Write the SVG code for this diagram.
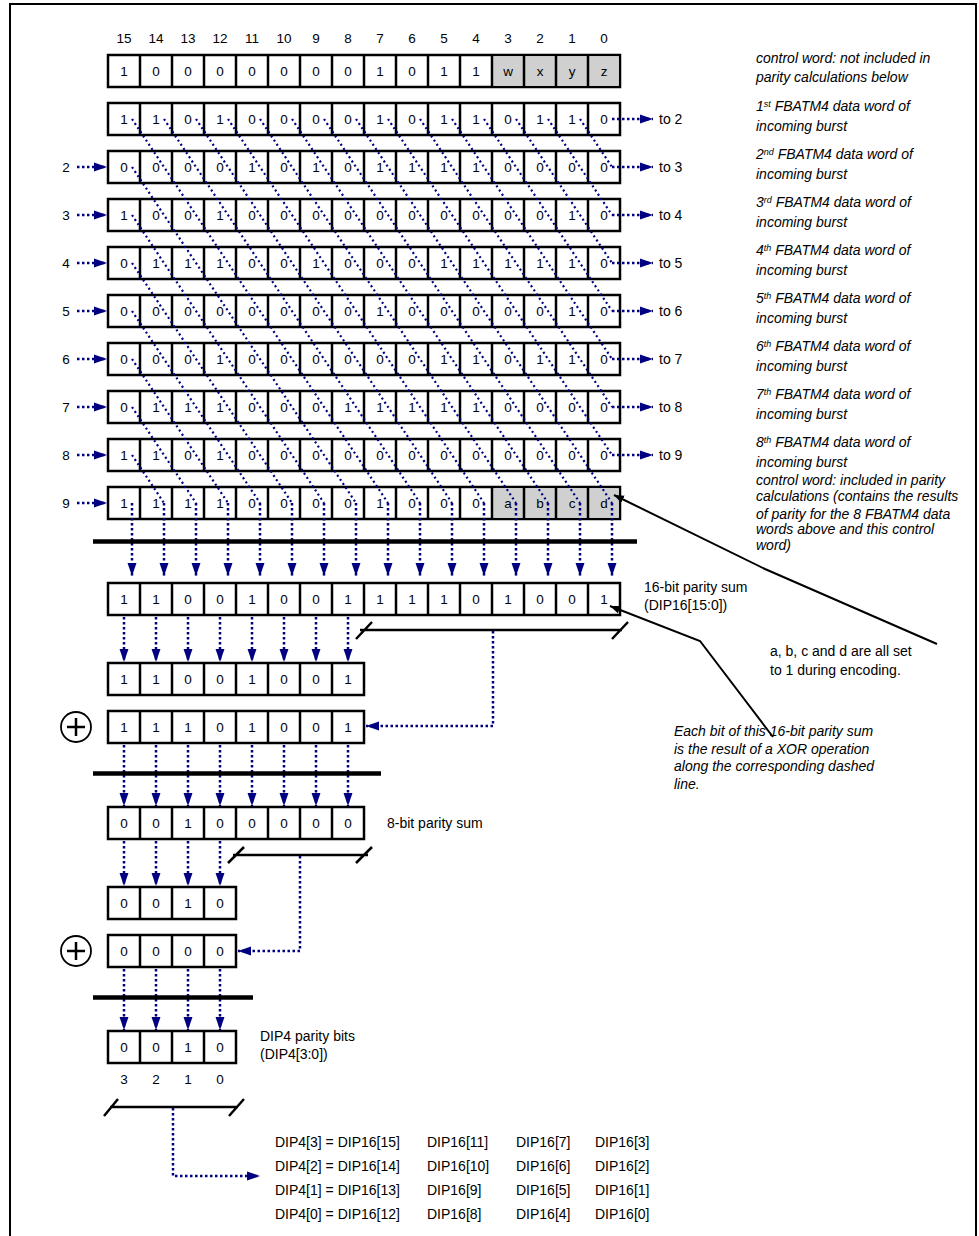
<svg xmlns="http://www.w3.org/2000/svg" xmlns:xlink="http://www.w3.org/1999/xlink" width="979" height="1236" viewBox="0 0 979 1236">
<style>
.box{fill:#fff;stroke:#000;stroke-width:2.5}
.gray{fill:#d0d0d0;stroke:none}
.dv{fill:none;stroke:#000;stroke-width:2.5}
text{font-family:"Liberation Sans",Arial,sans-serif;fill:#000}
.d{font-size:13.5px;text-anchor:middle}
.l{font-size:14px}
.n{font-size:14px;font-style:italic}
.sup{font-size:9px}
.dot{fill:none;stroke:#000080;stroke-width:2.5;stroke-dasharray:2.5 2.5}
.dg{fill:none;stroke:#000080;stroke-width:2.2;stroke-dasharray:2 3}
.arr{marker-end:url(#ah)}
.bar{stroke:#000;stroke-width:4.5}
.br{fill:none;stroke:#000;stroke-width:2.5}
.call{fill:none;stroke:#000;stroke-width:2;marker-end:url(#bh)}
</style>
<defs>
<marker id="ah" markerUnits="userSpaceOnUse" markerWidth="14" markerHeight="10" refX="13" refY="5" orient="auto"><path d="M0,0.5 L13,5 L0,9.5 z" fill="#000080"/></marker>
<marker id="bh" markerUnits="userSpaceOnUse" markerWidth="11" markerHeight="9" refX="10" refY="4.5" orient="auto"><path d="M0,0.5 L10,4.5 L0,8.5 z" fill="#000"/></marker>
<path id="d16" class="dv" d="M140,0v32M172,0v32M204,0v32M236,0v32M268,0v32M300,0v32M332,0v32M364,0v32M396,0v32M428,0v32M460,0v32M492,0v32M524,0v32M556,0v32M588,0v32"/>
<path id="d8" class="dv" d="M140,0v32M172,0v32M204,0v32M236,0v32M268,0v32M300,0v32M332,0v32"/>
<path id="d4" class="dv" d="M140,0v32M172,0v32M204,0v32"/>
</defs>
<rect x="0" y="0" width="979" height="1236" fill="#fff"/>
<path d="M10,1236 V4 H976 V1236" fill="none" stroke="#000" stroke-width="2"/>

<g id="bit-numbers">
<text class="d" x="124" y="43">15</text><text class="d" x="156" y="43">14</text><text class="d" x="188" y="43">13</text><text class="d" x="220" y="43">12</text><text class="d" x="252" y="43">11</text><text class="d" x="284" y="43">10</text><text class="d" x="316" y="43">9</text><text class="d" x="348" y="43">8</text><text class="d" x="380" y="43">7</text><text class="d" x="412" y="43">6</text><text class="d" x="444" y="43">5</text><text class="d" x="476" y="43">4</text><text class="d" x="508" y="43">3</text><text class="d" x="540" y="43">2</text><text class="d" x="572" y="43">1</text><text class="d" x="604" y="43">0</text>
</g>

<g id="row0">
<rect class="box" x="108" y="55" width="512" height="32"/><rect class="gray" x="493.25" y="56.25" width="125.5" height="29.5"/><use xlink:href="#d16" y="55"/>
<text class="d" x="124" y="76">1</text><text class="d" x="156" y="76">0</text><text class="d" x="188" y="76">0</text><text class="d" x="220" y="76">0</text><text class="d" x="252" y="76">0</text><text class="d" x="284" y="76">0</text><text class="d" x="316" y="76">0</text><text class="d" x="348" y="76">0</text><text class="d" x="380" y="76">1</text><text class="d" x="412" y="76">0</text><text class="d" x="444" y="76">1</text><text class="d" x="476" y="76">1</text><text class="d" x="508" y="76">w</text><text class="d" x="540" y="76">x</text><text class="d" x="572" y="76">y</text><text class="d" x="604" y="76">z</text>
</g>

<g id="row1">
<rect class="box" x="108" y="103" width="512" height="32"/><use xlink:href="#d16" y="103"/>
<text class="d" x="124" y="124">1</text><text class="d" x="156" y="124">1</text><text class="d" x="188" y="124">0</text><text class="d" x="220" y="124">1</text><text class="d" x="252" y="124">0</text><text class="d" x="284" y="124">0</text><text class="d" x="316" y="124">0</text><text class="d" x="348" y="124">0</text><text class="d" x="380" y="124">1</text><text class="d" x="412" y="124">0</text><text class="d" x="444" y="124">1</text><text class="d" x="476" y="124">1</text><text class="d" x="508" y="124">0</text><text class="d" x="540" y="124">1</text><text class="d" x="572" y="124">1</text><text class="d" x="604" y="124">0</text>
</g>

<g id="row2">
<rect class="box" x="108" y="151" width="512" height="32"/><use xlink:href="#d16" y="151"/>
<text class="d" x="124" y="172">0</text><text class="d" x="156" y="172">0</text><text class="d" x="188" y="172">0</text><text class="d" x="220" y="172">0</text><text class="d" x="252" y="172">1</text><text class="d" x="284" y="172">0</text><text class="d" x="316" y="172">1</text><text class="d" x="348" y="172">0</text><text class="d" x="380" y="172">1</text><text class="d" x="412" y="172">1</text><text class="d" x="444" y="172">1</text><text class="d" x="476" y="172">1</text><text class="d" x="508" y="172">0</text><text class="d" x="540" y="172">0</text><text class="d" x="572" y="172">0</text><text class="d" x="604" y="172">0</text>
</g>

<g id="row3">
<rect class="box" x="108" y="199" width="512" height="32"/><use xlink:href="#d16" y="199"/>
<text class="d" x="124" y="220">1</text><text class="d" x="156" y="220">0</text><text class="d" x="188" y="220">0</text><text class="d" x="220" y="220">1</text><text class="d" x="252" y="220">0</text><text class="d" x="284" y="220">0</text><text class="d" x="316" y="220">0</text><text class="d" x="348" y="220">0</text><text class="d" x="380" y="220">0</text><text class="d" x="412" y="220">0</text><text class="d" x="444" y="220">0</text><text class="d" x="476" y="220">0</text><text class="d" x="508" y="220">0</text><text class="d" x="540" y="220">0</text><text class="d" x="572" y="220">1</text><text class="d" x="604" y="220">0</text>
</g>

<g id="row4">
<rect class="box" x="108" y="247" width="512" height="32"/><use xlink:href="#d16" y="247"/>
<text class="d" x="124" y="268">0</text><text class="d" x="156" y="268">1</text><text class="d" x="188" y="268">1</text><text class="d" x="220" y="268">1</text><text class="d" x="252" y="268">0</text><text class="d" x="284" y="268">0</text><text class="d" x="316" y="268">1</text><text class="d" x="348" y="268">0</text><text class="d" x="380" y="268">0</text><text class="d" x="412" y="268">0</text><text class="d" x="444" y="268">1</text><text class="d" x="476" y="268">1</text><text class="d" x="508" y="268">1</text><text class="d" x="540" y="268">1</text><text class="d" x="572" y="268">1</text><text class="d" x="604" y="268">0</text>
</g>

<g id="row5">
<rect class="box" x="108" y="295" width="512" height="32"/><use xlink:href="#d16" y="295"/>
<text class="d" x="124" y="316">0</text><text class="d" x="156" y="316">0</text><text class="d" x="188" y="316">0</text><text class="d" x="220" y="316">0</text><text class="d" x="252" y="316">0</text><text class="d" x="284" y="316">0</text><text class="d" x="316" y="316">0</text><text class="d" x="348" y="316">0</text><text class="d" x="380" y="316">1</text><text class="d" x="412" y="316">0</text><text class="d" x="444" y="316">0</text><text class="d" x="476" y="316">0</text><text class="d" x="508" y="316">0</text><text class="d" x="540" y="316">0</text><text class="d" x="572" y="316">1</text><text class="d" x="604" y="316">0</text>
</g>

<g id="row6">
<rect class="box" x="108" y="343" width="512" height="32"/><use xlink:href="#d16" y="343"/>
<text class="d" x="124" y="364">0</text><text class="d" x="156" y="364">0</text><text class="d" x="188" y="364">0</text><text class="d" x="220" y="364">1</text><text class="d" x="252" y="364">0</text><text class="d" x="284" y="364">0</text><text class="d" x="316" y="364">0</text><text class="d" x="348" y="364">0</text><text class="d" x="380" y="364">0</text><text class="d" x="412" y="364">0</text><text class="d" x="444" y="364">1</text><text class="d" x="476" y="364">1</text><text class="d" x="508" y="364">0</text><text class="d" x="540" y="364">1</text><text class="d" x="572" y="364">1</text><text class="d" x="604" y="364">0</text>
</g>

<g id="row7">
<rect class="box" x="108" y="391" width="512" height="32"/><use xlink:href="#d16" y="391"/>
<text class="d" x="124" y="412">0</text><text class="d" x="156" y="412">1</text><text class="d" x="188" y="412">1</text><text class="d" x="220" y="412">1</text><text class="d" x="252" y="412">0</text><text class="d" x="284" y="412">0</text><text class="d" x="316" y="412">0</text><text class="d" x="348" y="412">1</text><text class="d" x="380" y="412">1</text><text class="d" x="412" y="412">1</text><text class="d" x="444" y="412">1</text><text class="d" x="476" y="412">1</text><text class="d" x="508" y="412">0</text><text class="d" x="540" y="412">0</text><text class="d" x="572" y="412">0</text><text class="d" x="604" y="412">0</text>
</g>

<g id="row8">
<rect class="box" x="108" y="439" width="512" height="32"/><use xlink:href="#d16" y="439"/>
<text class="d" x="124" y="460">1</text><text class="d" x="156" y="460">1</text><text class="d" x="188" y="460">0</text><text class="d" x="220" y="460">1</text><text class="d" x="252" y="460">0</text><text class="d" x="284" y="460">0</text><text class="d" x="316" y="460">0</text><text class="d" x="348" y="460">0</text><text class="d" x="380" y="460">0</text><text class="d" x="412" y="460">0</text><text class="d" x="444" y="460">0</text><text class="d" x="476" y="460">0</text><text class="d" x="508" y="460">0</text><text class="d" x="540" y="460">0</text><text class="d" x="572" y="460">0</text><text class="d" x="604" y="460">0</text>
</g>

<g id="row9">
<rect class="box" x="108" y="487" width="512" height="32"/><rect class="gray" x="493.25" y="488.25" width="125.5" height="29.5"/><use xlink:href="#d16" y="487"/>
<text class="d" x="124" y="508">1</text><text class="d" x="156" y="508">1</text><text class="d" x="188" y="508">1</text><text class="d" x="220" y="508">1</text><text class="d" x="252" y="508">0</text><text class="d" x="284" y="508">0</text><text class="d" x="316" y="508">0</text><text class="d" x="348" y="508">0</text><text class="d" x="380" y="508">1</text><text class="d" x="412" y="508">0</text><text class="d" x="444" y="508">0</text><text class="d" x="476" y="508">0</text><text class="d" x="508" y="508">a</text><text class="d" x="540" y="508">b</text><text class="d" x="572" y="508">c</text><text class="d" x="604" y="508">d</text>
</g>

<g id="sum16">
<rect class="box" x="108" y="583" width="512" height="32"/><use xlink:href="#d16" y="583"/>
<text class="d" x="124" y="604">1</text><text class="d" x="156" y="604">1</text><text class="d" x="188" y="604">0</text><text class="d" x="220" y="604">0</text><text class="d" x="252" y="604">1</text><text class="d" x="284" y="604">0</text><text class="d" x="316" y="604">0</text><text class="d" x="348" y="604">1</text><text class="d" x="380" y="604">1</text><text class="d" x="412" y="604">1</text><text class="d" x="444" y="604">1</text><text class="d" x="476" y="604">0</text><text class="d" x="508" y="604">1</text><text class="d" x="540" y="604">0</text><text class="d" x="572" y="604">0</text><text class="d" x="604" y="604">1</text>
</g>

<g id="upper8">
<rect class="box" x="108" y="663" width="256" height="32"/><use xlink:href="#d8" y="663"/>
<text class="d" x="124" y="684">1</text><text class="d" x="156" y="684">1</text><text class="d" x="188" y="684">0</text><text class="d" x="220" y="684">0</text><text class="d" x="252" y="684">1</text><text class="d" x="284" y="684">0</text><text class="d" x="316" y="684">0</text><text class="d" x="348" y="684">1</text>
</g>

<g id="lower8">
<rect class="box" x="108" y="711" width="256" height="32"/><use xlink:href="#d8" y="711"/>
<text class="d" x="124" y="732">1</text><text class="d" x="156" y="732">1</text><text class="d" x="188" y="732">1</text><text class="d" x="220" y="732">0</text><text class="d" x="252" y="732">1</text><text class="d" x="284" y="732">0</text><text class="d" x="316" y="732">0</text><text class="d" x="348" y="732">1</text>
</g>

<g id="xor1">
<circle cx="76" cy="727" r="15" fill="#fff" stroke="#000" stroke-width="1.8"/>
<path d="M67,727 H85 M76,718 V736" stroke="#000" stroke-width="2.5"/>
</g>

<g id="sum8">
<rect class="box" x="108" y="807" width="256" height="32"/><use xlink:href="#d8" y="807"/>
<text class="d" x="124" y="828">0</text><text class="d" x="156" y="828">0</text><text class="d" x="188" y="828">1</text><text class="d" x="220" y="828">0</text><text class="d" x="252" y="828">0</text><text class="d" x="284" y="828">0</text><text class="d" x="316" y="828">0</text><text class="d" x="348" y="828">0</text>
</g>

<g id="upper4">
<rect class="box" x="108" y="887" width="128" height="32"/><use xlink:href="#d4" y="887"/>
<text class="d" x="124" y="908">0</text><text class="d" x="156" y="908">0</text><text class="d" x="188" y="908">1</text><text class="d" x="220" y="908">0</text>
</g>

<g id="lower4">
<rect class="box" x="108" y="935" width="128" height="32"/><use xlink:href="#d4" y="935"/>
<text class="d" x="124" y="956">0</text><text class="d" x="156" y="956">0</text><text class="d" x="188" y="956">0</text><text class="d" x="220" y="956">0</text>
</g>

<g id="xor2">
<circle cx="76" cy="951" r="15" fill="#fff" stroke="#000" stroke-width="1.8"/>
<path d="M67,951 H85 M76,942 V960" stroke="#000" stroke-width="2.5"/>
</g>

<g id="dip4">
<rect class="box" x="108" y="1031" width="128" height="32"/><use xlink:href="#d4" y="1031"/>
<text class="d" x="124" y="1052">0</text><text class="d" x="156" y="1052">0</text><text class="d" x="188" y="1052">1</text><text class="d" x="220" y="1052">0</text>
<text class="d" x="124" y="1084">3</text><text class="d" x="156" y="1084">2</text><text class="d" x="188" y="1084">1</text><text class="d" x="220" y="1084">0</text>
</g>

<g id="connectors">
<g id="diagonals" class="dg">
<path d="M132,119 L388,503 M164,119 L420,503 M196,119 L452,503 M228,119 L484,503 M260,119 L516,503 M292,119 L548,503 M324,119 L580,503 M356,119 L612,503 M388,119 L612,455 M420,119 L612,407 M452,119 L612,359 M484,119 L612,311 M516,119 L612,263 M548,119 L612,215 M580,119 L612,167"/>
<path d="M132,167 L356,503 M132,215 L324,503 M132,263 L292,503 M132,311 L260,503 M132,359 L228,503 M132,407 L196,503 M132,455 L164,503"/>
</g>
<g id="wrap-out" class="dot arr">
<path d="M612,119 H653"/><path d="M612,167 H653"/><path d="M612,215 H653"/><path d="M612,263 H653"/><path d="M612,311 H653"/><path d="M612,359 H653"/><path d="M612,407 H653"/><path d="M612,455 H653"/>
</g>
<g id="wrap-in" class="dot arr">
<path d="M77,167 H107"/><path d="M77,215 H107"/><path d="M77,263 H107"/><path d="M77,311 H107"/><path d="M77,359 H107"/><path d="M77,407 H107"/><path d="M77,455 H107"/><path d="M77,503 H107"/>
</g>
<g id="down16" class="dot arr">
<path d="M132,503 V576"/><path d="M164,503 V576"/><path d="M196,503 V576"/><path d="M228,503 V576"/><path d="M260,503 V576"/><path d="M292,503 V576"/><path d="M324,503 V576"/><path d="M356,503 V576"/><path d="M388,503 V576"/><path d="M420,503 V576"/><path d="M452,503 V576"/><path d="M484,503 V576"/><path d="M516,503 V576"/><path d="M548,503 V576"/><path d="M580,503 V576"/><path d="M612,503 V576"/>
</g>
<g id="down8" class="dot arr">
<path d="M124,617 V662"/><path d="M156,617 V662"/><path d="M188,617 V662"/><path d="M220,617 V662"/><path d="M252,617 V662"/><path d="M284,617 V662"/><path d="M316,617 V662"/><path d="M348,617 V662"/>
<path d="M124,745 V806"/><path d="M156,745 V806"/><path d="M188,745 V806"/><path d="M220,745 V806"/><path d="M252,745 V806"/><path d="M284,745 V806"/><path d="M316,745 V806"/><path d="M348,745 V806"/>
</g>
<g id="down4" class="dot arr">
<path d="M124,841 V886"/><path d="M156,841 V886"/><path d="M188,841 V886"/><path d="M220,841 V886"/>
<path d="M124,969 V1030"/><path d="M156,969 V1030"/><path d="M188,969 V1030"/><path d="M220,969 V1030"/>
</g>
<g id="brackets">
<path class="br" d="M360,630 H622 M356,639 L372,622 M612,639 L628,622"/>
<path class="dot arr" d="M493,631 V726 H366"/>
<path class="br" d="M233,855 H368 M228,863 L244,847 M356,863 L372,847"/>
<path class="dot arr" d="M300,856 V951 H238"/>
<path class="br" d="M110,1107 H238 M104,1116 L118,1099 M229,1116 L244,1099"/>
<path class="dot arr" d="M173,1108 V1176 H260"/>
</g>
<g id="callouts">
<path class="call" d="M937,644 L765,569 L614,495"/>
<path class="call" d="M773,737 L700,641 L610,606"/>
</g>
</g>

<g id="bars">
<line class="bar" x1="93" y1="541.5" x2="637" y2="541.5"/>
<line class="bar" x1="93" y1="773.5" x2="381" y2="773.5"/>
<line class="bar" x1="93" y1="997.5" x2="253" y2="997.5"/>
</g>

<g id="labels">
<text class="d" x="66" y="172">2</text><text class="d" x="66" y="220">3</text><text class="d" x="66" y="268">4</text><text class="d" x="66" y="316">5</text><text class="d" x="66" y="364">6</text><text class="d" x="66" y="412">7</text><text class="d" x="66" y="460">8</text><text class="d" x="66" y="508">9</text>
<text class="l" x="659" y="124">to 2</text><text class="l" x="659" y="172">to 3</text><text class="l" x="659" y="220">to 4</text><text class="l" x="659" y="268">to 5</text><text class="l" x="659" y="316">to 6</text><text class="l" x="659" y="364">to 7</text><text class="l" x="659" y="412">to 8</text><text class="l" x="659" y="460">to 9</text>
<text class="l" x="644" y="592">16-bit parity sum</text>
<text class="l" x="644" y="610">(DIP16[15:0])</text>
<text class="l" x="770" y="656">a, b, c and d are all set</text>
<text class="l" x="770" y="675">to 1 during encoding.</text>
<text class="l" x="387" y="828">8-bit parity sum</text>
<text class="l" x="260" y="1041">DIP4 parity bits</text>
<text class="l" x="260" y="1059">(DIP4[3:0])</text>
</g>

<g id="notes">
<text class="n" x="756" y="63">control word: not included in</text>
<text class="n" x="756" y="82">parity calculations below</text>
<text class="n" x="756" y="111">1<tspan class="sup" dy="-4">st</tspan><tspan dy="4"> FBATM4 data word of</tspan></text>
<text class="n" x="756" y="131">incoming burst</text>
<text class="n" x="756" y="159">2<tspan class="sup" dy="-4">nd</tspan><tspan dy="4"> FBATM4 data word of</tspan></text>
<text class="n" x="756" y="179">incoming burst</text>
<text class="n" x="756" y="207">3<tspan class="sup" dy="-4">rd</tspan><tspan dy="4"> FBATM4 data word of</tspan></text>
<text class="n" x="756" y="227">incoming burst</text>
<text class="n" x="756" y="255">4<tspan class="sup" dy="-4">th</tspan><tspan dy="4"> FBATM4 data word of</tspan></text>
<text class="n" x="756" y="275">incoming burst</text>
<text class="n" x="756" y="303">5<tspan class="sup" dy="-4">th</tspan><tspan dy="4"> FBATM4 data word of</tspan></text>
<text class="n" x="756" y="323">incoming burst</text>
<text class="n" x="756" y="351">6<tspan class="sup" dy="-4">th</tspan><tspan dy="4"> FBATM4 data word of</tspan></text>
<text class="n" x="756" y="371">incoming burst</text>
<text class="n" x="756" y="399">7<tspan class="sup" dy="-4">th</tspan><tspan dy="4"> FBATM4 data word of</tspan></text>
<text class="n" x="756" y="419">incoming burst</text>
<text class="n" x="756" y="447">8<tspan class="sup" dy="-4">th</tspan><tspan dy="4"> FBATM4 data word of</tspan></text>
<text class="n" x="756" y="467">incoming burst</text>
<text class="n" x="756" y="485">control word: included in parity</text>
<text class="n" x="756" y="501">calculations (contains the results</text>
<text class="n" x="756" y="519">of parity for the 8 FBATM4 data</text>
<text class="n" x="756" y="534">words above and this control</text>
<text class="n" x="756" y="550">word)</text>
<text class="n" x="674" y="736">Each bit of this 16-bit parity sum</text>
<text class="n" x="674" y="754">is the result of a XOR operation</text>
<text class="n" x="674" y="771">along the corresponding dashed</text>
<text class="n" x="674" y="789">line.</text>
</g>

<g id="dip-map">
<text class="l" x="275" y="1147">DIP4[3] = DIP16[15]</text><text class="l" x="427" y="1147">DIP16[11]</text><text class="l" x="516" y="1147">DIP16[7]</text><text class="l" x="595" y="1147">DIP16[3]</text>
<text class="l" x="275" y="1171">DIP4[2] = DIP16[14]</text><text class="l" x="427" y="1171">DIP16[10]</text><text class="l" x="516" y="1171">DIP16[6]</text><text class="l" x="595" y="1171">DIP16[2]</text>
<text class="l" x="275" y="1195">DIP4[1] = DIP16[13]</text><text class="l" x="427" y="1195">DIP16[9]</text><text class="l" x="516" y="1195">DIP16[5]</text><text class="l" x="595" y="1195">DIP16[1]</text>
<text class="l" x="275" y="1219">DIP4[0] = DIP16[12]</text><text class="l" x="427" y="1219">DIP16[8]</text><text class="l" x="516" y="1219">DIP16[4]</text><text class="l" x="595" y="1219">DIP16[0]</text>
</g>
</svg>
